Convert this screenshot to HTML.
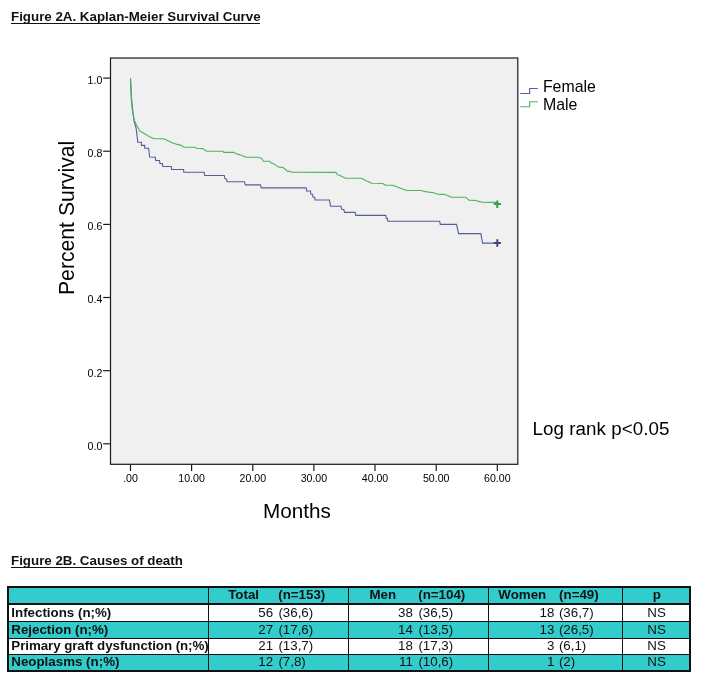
<!DOCTYPE html>
<html><head><meta charset="utf-8"><title>Figure 2</title>
<style>
html,body{margin:0;padding:0;background:#fff;}
body{will-change:transform;width:702px;height:686px;position:relative;overflow:hidden;font-family:"Liberation Sans",sans-serif;color:#111;}
svg text{font-family:"Liberation Sans",sans-serif;fill:#000;}
.tk{font-size:10.6px;}
.lg{font-size:15.9px;}
.ax{font-size:20.7px;}
.lr{font-size:18.8px;letter-spacing:0.05px;}
.h{position:absolute;font-weight:bold;font-size:13.33px;line-height:15px;white-space:nowrap;}
.bg{position:absolute;}
.t{position:absolute;font-size:13.33px;line-height:15px;white-space:nowrap;}
.t.b{font-weight:bold;}
.t.ls{letter-spacing:-0.06px;}
.ul{position:absolute;height:1px;background:#111;}
</style></head><body>
<div class="h" style="left:11px;top:8.5px;">Figure 2A. Kaplan-Meier Survival Curve</div><div class="ul" style="left:11px;top:23px;width:249px;"></div>
<svg width="702" height="560" viewBox="0 0 702 560" style="position:absolute;left:0;top:0">
<rect x="110.5" y="58" width="407.3" height="406.3" fill="#f0f0f0" stroke="#1a1a1a" stroke-width="1.2"/>
<line x1="103.2" y1="78.1" x2="110.5" y2="78.1" stroke="#1a1a1a" stroke-width="1.2"/>
<text x="102.3" y="84.0" text-anchor="end" class="tk">1.0</text>
<line x1="103.2" y1="151.2" x2="110.5" y2="151.2" stroke="#1a1a1a" stroke-width="1.2"/>
<text x="102.3" y="157.1" text-anchor="end" class="tk">0.8</text>
<line x1="103.2" y1="224.4" x2="110.5" y2="224.4" stroke="#1a1a1a" stroke-width="1.2"/>
<text x="102.3" y="230.3" text-anchor="end" class="tk">0.6</text>
<line x1="103.2" y1="297.5" x2="110.5" y2="297.5" stroke="#1a1a1a" stroke-width="1.2"/>
<text x="102.3" y="303.4" text-anchor="end" class="tk">0.4</text>
<line x1="103.2" y1="370.7" x2="110.5" y2="370.7" stroke="#1a1a1a" stroke-width="1.2"/>
<text x="102.3" y="376.6" text-anchor="end" class="tk">0.2</text>
<line x1="103.2" y1="443.8" x2="110.5" y2="443.8" stroke="#1a1a1a" stroke-width="1.2"/>
<text x="102.3" y="449.7" text-anchor="end" class="tk">0.0</text>
<line x1="130.5" y1="464.3" x2="130.5" y2="471" stroke="#1a1a1a" stroke-width="1.2"/>
<text x="130.5" y="482.2" text-anchor="middle" class="tk">.00</text>
<line x1="191.6" y1="464.3" x2="191.6" y2="471" stroke="#1a1a1a" stroke-width="1.2"/>
<text x="191.6" y="482.2" text-anchor="middle" class="tk">10.00</text>
<line x1="252.8" y1="464.3" x2="252.8" y2="471" stroke="#1a1a1a" stroke-width="1.2"/>
<text x="252.8" y="482.2" text-anchor="middle" class="tk">20.00</text>
<line x1="313.9" y1="464.3" x2="313.9" y2="471" stroke="#1a1a1a" stroke-width="1.2"/>
<text x="313.9" y="482.2" text-anchor="middle" class="tk">30.00</text>
<line x1="375.0" y1="464.3" x2="375.0" y2="471" stroke="#1a1a1a" stroke-width="1.2"/>
<text x="375.0" y="482.2" text-anchor="middle" class="tk">40.00</text>
<line x1="436.2" y1="464.3" x2="436.2" y2="471" stroke="#1a1a1a" stroke-width="1.2"/>
<text x="436.2" y="482.2" text-anchor="middle" class="tk">50.00</text>
<line x1="497.3" y1="464.3" x2="497.3" y2="471" stroke="#1a1a1a" stroke-width="1.2"/>
<text x="497.3" y="482.2" text-anchor="middle" class="tk">60.00</text>
<polyline points="130.5,78.1 131.3,95.6 132.2,105.9 134.1,121.3 136.0,127.7 136.9,134.1 137.7,142.3 141.4,142.3 141.4,145.4 144.7,145.4 144.7,148.2 148.6,148.2 149.6,157.0 155.4,157.2 155.6,160.4 159.5,160.5 159.9,163.4 162.4,163.6 162.8,166.5 171.2,166.5 171.7,169.5 183.6,169.5 183.8,172.3 204.1,172.3 204.7,175.5 224.3,175.5 224.9,178.7 226.5,179.0 227.0,181.7 244.4,181.7 245.3,184.9 260.4,184.9 261.3,187.9 306.2,187.9 306.7,191.0 310.5,191.0 310.9,194.2 312.6,194.2 313.0,197.2 314.6,197.2 315.1,200.0 329.5,200.0 330.5,206.2 341.0,206.2 341.7,209.2 343.8,209.5 344.5,212.4 355.1,212.4 355.8,215.4 385.8,215.4 386.2,218.3 387.4,218.3 387.9,221.3 439.6,221.3 440.3,224.4 456.5,224.4 458.6,233.6 480.8,233.6 482.6,243.1 497.1,243.1" fill="none" stroke="#525e9c" stroke-width="1.1" stroke-linejoin="miter"/>
<polyline points="130.5,78.1 130.9,89.2 131.5,103.3 132.8,113.6 134.7,121.3 137.3,126.4 139.0,129.6 140.0,131.3 143.8,133.2 149.0,136.4 154.1,138.7 163.7,138.7 167.6,140.5 171.4,142.4 175.9,144.1 180.4,145.1 184.2,147.3 195.1,147.3 196.4,148.3 202.8,148.6 206.7,151.3 223.2,151.3 223.8,152.4 234.1,152.4 235.4,153.5 239.2,154.6 243.1,155.9 246.3,157.2 258.5,157.2 261.7,158.5 263.6,161.2 269.4,161.2 271.3,163.1 273.8,164.0 276.4,165.6 279.0,167.2 282.8,167.4 286.0,169.7 287.3,171.3 290.5,171.4 291.8,172.3 335.9,172.4 337.2,174.4 341.0,176.0 345.5,178.2 361.5,178.2 364.1,179.7 367.9,181.4 371.8,183.3 382.6,183.5 385.8,185.3 392.8,185.3 396.7,186.7 400.5,188.2 404.4,189.7 407.6,190.5 421.7,190.5 424.2,191.4 428.7,192.1 433.8,192.7 437.7,194.2 444.5,194.4 447.7,195.6 451.5,197.2 465.6,197.2 468.8,200.1 475.9,200.5 478.5,201.4 482.3,202.3 497.0,202.4" fill="none" stroke="#4cb35c" stroke-width="1.1" stroke-linejoin="round"/>
<path d="M493.8 243.1H500.9M497.3 239.3V246.8" stroke="#3a477f" stroke-width="2" fill="none"/>
<path d="M493.8 204.1H500.9M497.3 200.4V208" stroke="#35a045" stroke-width="2" fill="none"/>
<path d="M520.3 93.5H529.7V88.5H537.8" stroke="#525e9c" stroke-width="1.1" fill="none"/>
<path d="M520.3 106.7H529.7V101.7H537.8" stroke="#4cb35c" stroke-width="1.1" fill="none"/>
<text x="542.9" y="91.9" class="lg">Female</text>
<text x="542.9" y="109.8" class="lg">Male</text>
<text transform="translate(73.6,217.9) rotate(-90)" text-anchor="middle" class="ax" style="font-size:21.2px">Percent Survival</text>
<text x="296.9" y="517.8" text-anchor="middle" class="ax">Months</text>
<text x="532.5" y="434.5" class="lr">Log rank p&lt;0.05</text>
</svg>
<div class="h" style="left:11px;top:553px;">Figure 2B. Causes of death</div><div class="ul" style="left:11px;top:567px;width:171px;"></div>
<div class="tbl">
<div class="bg" style="left:7px;top:586px;width:684px;height:85.5px;background:#111"></div>
<div class="bg" style="left:9px;top:588px;width:198.8px;height:14.5px;background:#33cccc"></div>
<div class="bg" style="left:9px;top:604.5px;width:198.8px;height:16.5px;background:#ffffff"></div>
<div class="bg" style="left:9px;top:622px;width:198.8px;height:15.5px;background:#33cccc"></div>
<div class="bg" style="left:9px;top:638.5px;width:198.8px;height:15.3px;background:#ffffff"></div>
<div class="bg" style="left:9px;top:654.8px;width:198.8px;height:15.2px;background:#33cccc"></div>
<div class="bg" style="left:209px;top:588px;width:138.9px;height:14.5px;background:#33cccc"></div>
<div class="bg" style="left:209px;top:604.5px;width:138.9px;height:16.5px;background:#ffffff"></div>
<div class="bg" style="left:209px;top:622px;width:138.9px;height:15.5px;background:#33cccc"></div>
<div class="bg" style="left:209px;top:638.5px;width:138.9px;height:15.3px;background:#ffffff"></div>
<div class="bg" style="left:209px;top:654.8px;width:138.9px;height:15.2px;background:#33cccc"></div>
<div class="bg" style="left:349.1px;top:588px;width:139.1px;height:14.5px;background:#33cccc"></div>
<div class="bg" style="left:349.1px;top:604.5px;width:139.1px;height:16.5px;background:#ffffff"></div>
<div class="bg" style="left:349.1px;top:622px;width:139.1px;height:15.5px;background:#33cccc"></div>
<div class="bg" style="left:349.1px;top:638.5px;width:139.1px;height:15.3px;background:#ffffff"></div>
<div class="bg" style="left:349.1px;top:654.8px;width:139.1px;height:15.2px;background:#33cccc"></div>
<div class="bg" style="left:489.4px;top:588px;width:132.5px;height:14.5px;background:#33cccc"></div>
<div class="bg" style="left:489.4px;top:604.5px;width:132.5px;height:16.5px;background:#ffffff"></div>
<div class="bg" style="left:489.4px;top:622px;width:132.5px;height:15.5px;background:#33cccc"></div>
<div class="bg" style="left:489.4px;top:638.5px;width:132.5px;height:15.3px;background:#ffffff"></div>
<div class="bg" style="left:489.4px;top:654.8px;width:132.5px;height:15.2px;background:#33cccc"></div>
<div class="bg" style="left:623.1px;top:588px;width:65.9px;height:14.5px;background:#33cccc"></div>
<div class="bg" style="left:623.1px;top:604.5px;width:65.9px;height:16.5px;background:#ffffff"></div>
<div class="bg" style="left:623.1px;top:622px;width:65.9px;height:15.5px;background:#33cccc"></div>
<div class="bg" style="left:623.1px;top:638.5px;width:65.9px;height:15.3px;background:#ffffff"></div>
<div class="bg" style="left:623.1px;top:654.8px;width:65.9px;height:15.2px;background:#33cccc"></div>
<div class="t b" style="top:587.4px;left:228.2px;">Total</div>
<div class="t b" style="top:587.4px;left:278.2px;">(n=153)</div>
<div class="t b" style="top:587.4px;left:369.5px;">Men</div>
<div class="t b" style="top:587.4px;left:418.2px;">(n=104)</div>
<div class="t b" style="top:587.4px;left:498.3px;">Women</div>
<div class="t b" style="top:587.4px;left:559.1px;">(n=49)</div>
<div class="t b" style="top:587.4px;left:606.8px;width:100px;text-align:center;">p</div>
<div class="t b" style="top:605.2px;left:11.3px;">Infections (n;%)</div>
<div class="t " style="top:605.2px;right:428.9px;">56</div>
<div class="t " style="top:605.2px;left:278.4px;">(36,6)</div>
<div class="t " style="top:605.2px;right:289.2px;">38</div>
<div class="t " style="top:605.2px;left:418.4px;">(36,5)</div>
<div class="t " style="top:605.2px;right:147.7px;">18</div>
<div class="t " style="top:605.2px;left:558.9px;">(36,7)</div>
<div class="t " style="top:605.2px;left:606.6px;width:100px;text-align:center;">NS</div>
<div class="t b" style="top:621.6px;left:11.3px;">Rejection (n;%)</div>
<div class="t " style="top:621.6px;right:428.9px;">27</div>
<div class="t " style="top:621.6px;left:278.4px;">(17,6)</div>
<div class="t " style="top:621.6px;right:289.2px;">14</div>
<div class="t " style="top:621.6px;left:418.4px;">(13,5)</div>
<div class="t " style="top:621.6px;right:147.7px;">13</div>
<div class="t " style="top:621.6px;left:558.9px;">(26,5)</div>
<div class="t " style="top:621.6px;left:606.6px;width:100px;text-align:center;">NS</div>
<div class="t b ls" style="top:637.8px;left:11.3px;">Primary graft dysfunction (n;%)</div>
<div class="t " style="top:637.8px;right:428.9px;">21</div>
<div class="t " style="top:637.8px;left:278.4px;">(13,7)</div>
<div class="t " style="top:637.8px;right:289.2px;">18</div>
<div class="t " style="top:637.8px;left:418.4px;">(17,3)</div>
<div class="t " style="top:637.8px;right:147.7px;">3</div>
<div class="t " style="top:637.8px;left:558.9px;">(6,1)</div>
<div class="t " style="top:637.8px;left:606.6px;width:100px;text-align:center;">NS</div>
<div class="t b" style="top:654.0px;left:11.3px;">Neoplasms (n;%)</div>
<div class="t " style="top:654.0px;right:428.9px;">12</div>
<div class="t " style="top:654.0px;left:278.4px;">(7,8)</div>
<div class="t " style="top:654.0px;right:289.2px;">11</div>
<div class="t " style="top:654.0px;left:418.4px;">(10,6)</div>
<div class="t " style="top:654.0px;right:147.7px;">1</div>
<div class="t " style="top:654.0px;left:558.9px;">(2)</div>
<div class="t " style="top:654.0px;left:606.6px;width:100px;text-align:center;">NS</div>
</div>
</body></html>
